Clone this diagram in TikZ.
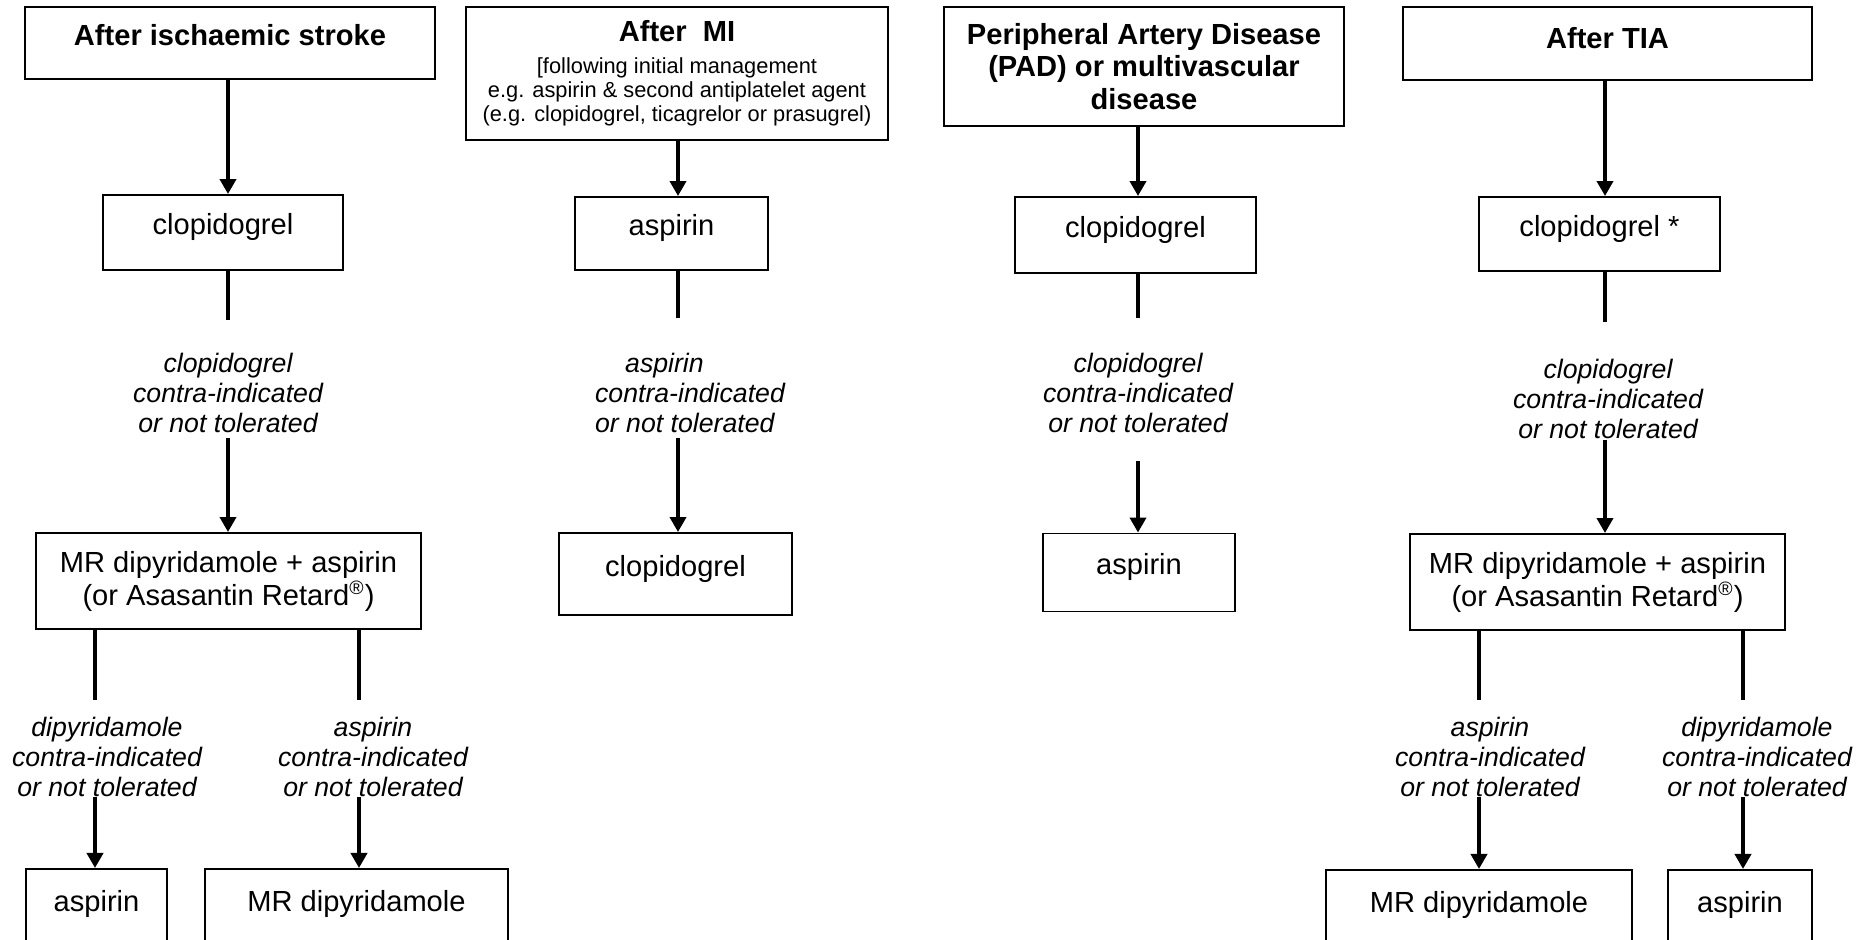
\documentclass[tikz,border=0pt]{standalone}
\usepackage{fontspec}
\setmainfont{Liberation Sans}
\usetikzlibrary{arrows.meta}

\tikzset{
  box/.style={draw, line width=0.8pt, align=center, inner sep=2pt},
  head/.style={box, font=\bfseries\fontsize{12}{13.4}\selectfont},
  size/.style 2 args={minimum width=#1*0.4125pt, minimum height=#2*0.4125pt},
  up/.style={text depth=0.7em},
  cond/.style={align=center, inner sep=0pt, font=\itshape\fontsize{11}{12.4}\selectfont},
  stem/.style={line width=2pt},
  flow/.style={line width=2pt, ->}
}

\begin{document}
\begin{tikzpicture}[x=0.4125pt, y=-0.4125pt, >={Triangle[length=6.2pt,width=6.6pt]}, font=\fontsize{12}{13.6}\selectfont]
  \useasboundingbox (0,0) rectangle (1872,939);
  \clip (0,0) rectangle (1872,939);

  \node [head, size={410}{72}, text depth=0.69em] (stroke) at (230,43) {After ischaemic stroke};
  \node [box, up, size={240}{75}] (s1) at (223,232.5) {clopidogrel};
  \node [cond] (s1l) at (228,393) {clopidogrel\\contra-indicated\\or not tolerated};
  \node [box, size={385}{96}] (s2) at (228.5,581) {MR dipyridamole + aspirin\\ (or Asasantin Retard\textsuperscript{\textregistered})};
  \node [cond] (s2ll) at (107,757) {dipyridamole\\contra-indicated\\or not tolerated};
  \node [cond] (s2rl) at (373,757) {aspirin\\contra-indicated\\or not tolerated};
  \node [box, up, size={141}{80}, anchor=north] (s3) at (96.5,868) {aspirin};
  \node [box, up, size={303}{80}, anchor=north] (s4) at (356.5,868) {MR dipyridamole};

  \coordinate (s1a) at (228,320);
  \coordinate (s1b) at (228,438);
  \coordinate (s2la) at (95,700);
  \coordinate (s2lb) at (95,797);
  \coordinate (s2ra) at (359,700);
  \coordinate (s2rb) at (359,797);
  \draw [flow] (stroke.south -| s1a) -- (s1.north -| s1a);
  \draw [stem] (s1.south -| s1a) -- (s1a);
  \draw [flow] (s1b) -- (s2.north -| s1b);
  \draw [stem] (s2.south -| s2la) -- (s2la);
  \draw [flow] (s2lb) -- (s3.north -| s2lb);
  \draw [stem] (s2.south -| s2ra) -- (s2ra);
  \draw [flow] (s2rb) -- (s4.north -| s2rb);

  \node [box, size={422}{133}, font=\fontsize{9}{9.9}\selectfont] (mi) at (677,73.5) {{\bfseries\fontsize{12}{13.4}\selectfont After\ \ MI}\\[3.3pt]{[}following initial management\\e.g. aspirin \& second antiplatelet agent\\(e.g. clopidogrel, ticagrelor or prasugrel)};
  \node [box, up, size={193}{73}] (m1) at (671.5,233.5) {aspirin};
  \node [cond, align=left] (m1l) at (690,393) {\hspace*{12.4pt}aspirin\\contra-indicated\\or not tolerated};
  \node [box, up, size={233}{82}] (m2) at (675.5,574) {clopidogrel};

  \coordinate (m1a) at (678,318);
  \coordinate (m1b) at (678,438);
  \draw [flow] (mi.south -| m1a) -- (m1.north -| m1a);
  \draw [stem] (m1.south -| m1a) -- (m1a);
  \draw [flow] (m1b) -- (m2.north -| m1b);

  \node [head, size={400}{119}] (pad) at (1144,66.5) {Peripheral Artery Disease\\(PAD) or multivascular\\disease};
  \node [box, up, size={241}{76}] (p1) at (1135.5,235) {clopidogrel};
  \node [cond] (p1l) at (1138,393) {clopidogrel\\contra-indicated\\or not tolerated};
  \node [box, up, size={192}{78}] (p2) at (1139,572.5) {aspirin};

  \coordinate (p1a) at (1138,318);
  \coordinate (p1b) at (1138,461);
  \draw [flow] (pad.south -| p1a) -- (p1.north -| p1a);
  \draw [stem] (p1.south -| p1a) -- (p1a);
  \draw [flow] (p1b) -- (p2.north -| p1b);

  \node [head, size={409}{73}, text depth=0.45em] (tia) at (1607.5,43.5) {After TIA};
  \node [box, up, size={241}{74}] (t1) at (1599.5,234) {clopidogrel *};
  \node [cond] (t1l) at (1608,399) {clopidogrel\\contra-indicated\\or not tolerated};
  \node [box, size={375}{96}] (t2) at (1597.5,582) {MR dipyridamole + aspirin\\ (or Asasantin Retard\textsuperscript{\textregistered})};
  \node [cond] (t2ll) at (1490,757) {aspirin\\contra-indicated\\or not tolerated};
  \node [cond] (t2rl) at (1757,757) {dipyridamole\\contra-indicated\\or not tolerated};
  \node [box, up, size={306}{80}, anchor=north] (t3) at (1479,869) {MR dipyridamole};
  \node [box, up, size={144}{80}, anchor=north] (t4) at (1740,869) {aspirin};

  \coordinate (t1a) at (1605,322);
  \coordinate (t1b) at (1605,440);
  \coordinate (t2la) at (1479,700);
  \coordinate (t2lb) at (1479,797);
  \coordinate (t2ra) at (1743,700);
  \coordinate (t2rb) at (1743,797);
  \draw [flow] (tia.south -| t1a) -- (t1.north -| t1a);
  \draw [stem] (t1.south -| t1a) -- (t1a);
  \draw [flow] (t1b) -- (t2.north -| t1b);
  \draw [stem] (t2.south -| t2la) -- (t2la);
  \draw [flow] (t2lb) -- (t3.north -| t2lb);
  \draw [stem] (t2.south -| t2ra) -- (t2ra);
  \draw [flow] (t2rb) -- (t4.north -| t2rb);
\end{tikzpicture}
\end{document}
